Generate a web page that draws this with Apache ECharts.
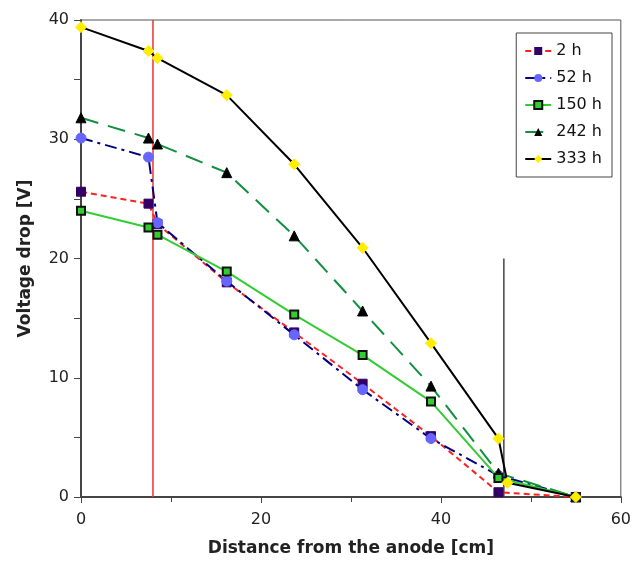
<!DOCTYPE html>
<html>
<head>
<meta charset="utf-8">
<script src="https://cdn.jsdelivr.net/npm/echarts@6/dist/echarts.min.js"></script>
<style>
  html, body { margin: 0; padding: 0; background: #fff; }
  #main { width: 634px; height: 562px; }
</style>
</head>
<body>
<div id="main"></div>
<script>
// distance from the anode [cm]
const distances = [0, 7.5, 8.5, 16.2, 23.7, 31.3, 38.9, 46.4, 47.4, 55];
// voltage drop [V] per run time (null = no point)
const v2h   = [25.6, 24.6, 22.9, 18.0, 13.8, 9.5, 5.1, 0.4, null, 0];
const v52h  = [30.1, 28.5, 23.0, 18.1, 13.6, 9.0, 4.9, 1.8, null, 0];
const v150h = [24.0, 22.6, 22.0, 18.9, 15.3, 11.9, 8.0, 1.6, null, 0];
const v242h = [31.8, 30.1, 29.6, 27.2, 21.9, 15.6, 9.3, 2.0, null, 0];
const v333h = [39.4, 37.4, 36.8, 33.7, 27.9, 20.9, 12.9, 4.9, 1.2, 0];
const seriesNames = ['2 h', '52 h', '150 h', '242 h', '333 h'];
const xTicks = [0, 20, 40, 60];
const yTicks = [0, 10, 20, 30, 40];
// vertical marker lines
const anodeEdge = [[8, 0], [8, 40]];
const cathodeEdge = [[47, 0], [47, 20]];

function pairs(vals) {
  const out = [];
  vals.forEach((v, i) => { if (v !== null) out.push([distances[i], v]); });
  return out;
}

const mychart = echarts.init(document.getElementById('main'));
const option = {
  animation: false,
  backgroundColor: '#fff',
  grid: { left: 81, right: 11, top: 20, bottom: 65, show: true, borderColor: '#555', borderWidth: 1 },
  legend: {
    orient: 'vertical',
    right: 22, top: 33,
    data: seriesNames,
    borderColor: '#444', borderWidth: 1,
    padding: [10, 10, 10, 8],
    itemGap: 11, itemWidth: 26, itemHeight: 10,
    textStyle: { fontFamily: 'DejaVu Sans', fontSize: 16, color: '#111' }
  },
  xAxis: {
    type: 'value', min: 0, max: 60, interval: 20,
    name: 'Distance from the anode [cm]', nameLocation: 'middle', nameGap: 43,
    nameTextStyle: { fontFamily: 'DejaVu Sans', fontWeight: 'bold', fontSize: 17, color: '#222' },
    axisLine: { onZero: false, lineStyle: { color: '#444', width: 2 } },
    axisTick: { show: true, length: 6, inside: false, lineStyle: { color: '#444' } },
    minorTick: { show: true, splitNumber: 2, length: 5, lineStyle: { color: '#444' } },
    axisLabel: { fontFamily: 'DejaVu Sans', fontSize: 16, color: '#222', margin: 15,
      formatter: v => xTicks.includes(v) ? String(v) : '' },
    splitLine: { show: false }
  },
  yAxis: {
    type: 'value', min: 0, max: 40, interval: 10,
    name: 'Voltage drop [V]', nameLocation: 'middle', nameGap: 47,
    nameTextStyle: { fontFamily: 'DejaVu Sans', fontWeight: 'bold', fontSize: 17, color: '#222' },
    axisLine: { onZero: false, lineStyle: { color: '#444', width: 2 } },
    axisTick: { show: true, length: 7, lineStyle: { color: '#444' } },
    minorTick: { show: true, splitNumber: 2, length: 7, lineStyle: { color: '#444' } },
    axisLabel: { fontFamily: 'DejaVu Sans', fontSize: 16, color: '#222', margin: 12,
      formatter: v => yTicks.includes(v) ? String(v) : '' },
    splitLine: { show: false }
  },
  series: [
    {
      name: 'anode', type: 'line', data: anodeEdge, symbol: 'none', silent: true,
      lineStyle: { color: '#ee3333', width: 1.5 }, z: 1
    },
    {
      name: 'cathode', type: 'line', data: cathodeEdge, symbol: 'none', silent: true,
      lineStyle: { color: '#444', width: 1.5 }, z: 1
    },
    {
      name: '2 h', type: 'line', data: pairs(v2h),
      symbol: 'rect', symbolSize: 9,
      itemStyle: { color: '#330066', borderColor: '#330066' },
      lineStyle: { color: '#ff2020', width: 2, type: [6, 4] }, z: 3
    },
    {
      name: '52 h', type: 'line', data: pairs(v52h),
      symbol: 'circle', symbolSize: 10,
      itemStyle: { color: '#6666ff', borderColor: '#6666ff' },
      lineStyle: { color: '#000080', width: 2, type: [12, 5, 3, 5] }, z: 3
    },
    {
      name: '150 h', type: 'line', data: pairs(v150h),
      symbol: 'rect', symbolSize: 8,
      itemStyle: { color: '#33cc33', borderColor: '#111', borderWidth: 2 },
      lineStyle: { color: '#33cc33', width: 2 }, z: 4
    },
    {
      name: '242 h', type: 'line', data: pairs(v242h),
      symbol: 'triangle', symbolSize: 10,
      itemStyle: { color: '#000', borderColor: '#000' },
      lineStyle: { color: '#109040', width: 2, type: [18, 10] }, z: 3
    },
    {
      name: '333 h', type: 'line', data: pairs(v333h),
      symbol: 'diamond', symbolSize: 11,
      itemStyle: { color: '#ffee00', borderColor: '#ffee00' },
      lineStyle: { color: '#000', width: 2 }, z: 5
    }
  ]
};
mychart.setOption(option);
window.addEventListener('resize', function () { mychart.resize(); });
</script>
</body>
</html>
